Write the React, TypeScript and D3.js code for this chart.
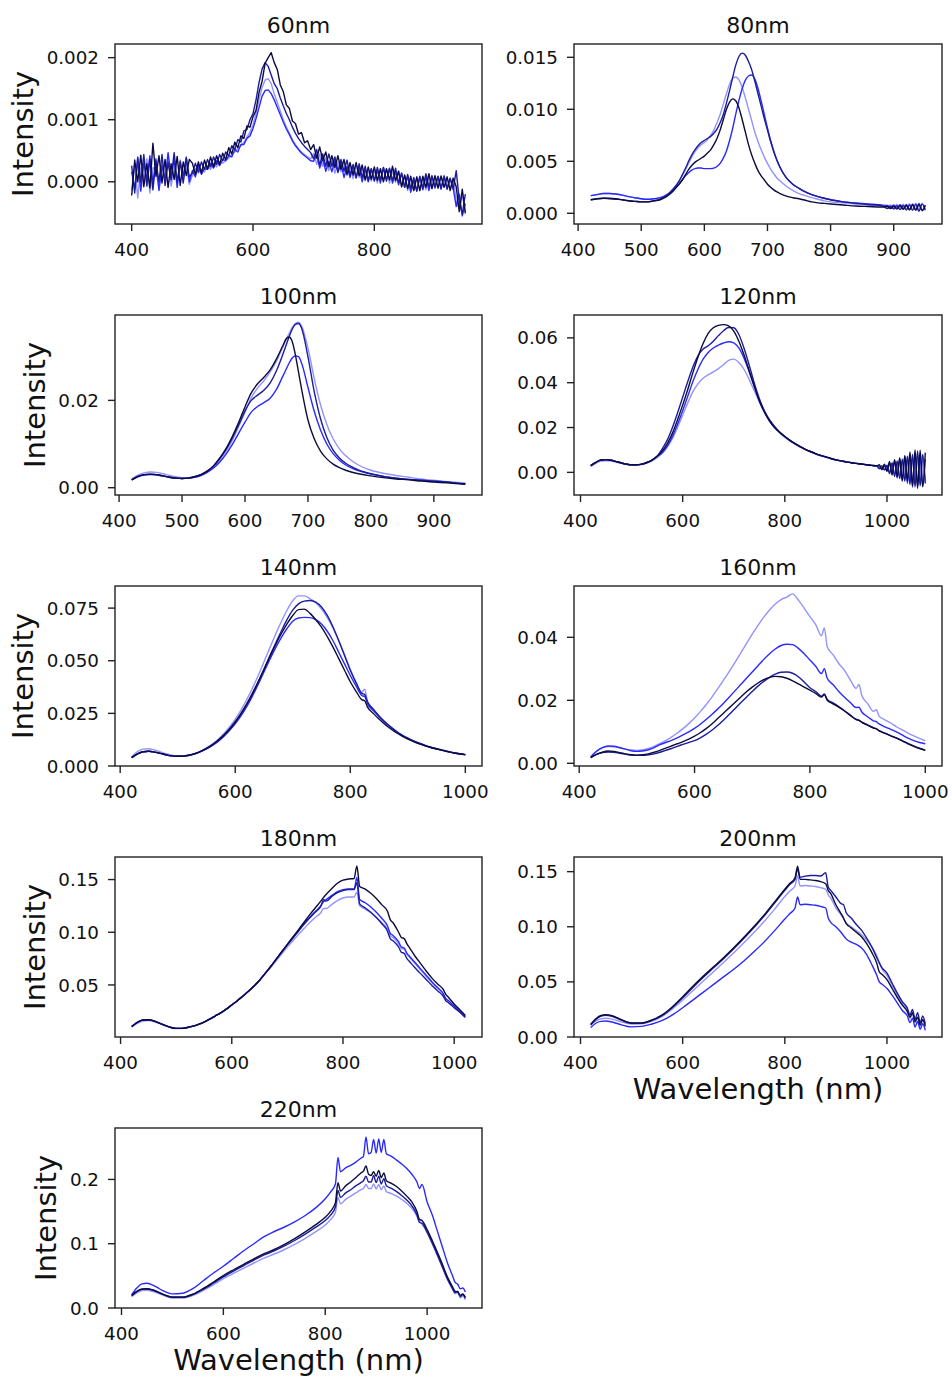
import React from "react";
import * as d3 from "d3";

const W = 952;
const H = 1378;
const FONT = "DejaVu Sans, Verdana, sans-serif";
// series colours: light, medium, dark blue, navy
const COLORS = ["#9393ff", "#2a2aff", "#1c1c9e", "#0c0c3e"];

// ---------------- 60nm (values in 1e-5) ----------------
const WL_60 = d3.range(400, 951, 5);
const S0_60 = [-14,28,-26,23,4,37,-18,23,17,-12,30,4,39,-7,23,-3,35,2,28,-4,
  10,22,14,20,16,26,20,30,24,32,30,34,38,44,48,54,58,64,72,80,
  92,110,132,152,164,166,158,142,128,114,100,88,78,68,60,53,48,44,40,37,
  46,28,45,25,39,18,34,14,32,16,33,10,25,5,26,7,23,2,18,1,
  19,-2,21,2,21,-2,18,-1,17,-8,9,-14,5,-14,7,-14,6,-13,9,-11,
  8,-10,10,-8,6,-12,4,-30,-44,-20,-52];
const S1_60 = [16,-12,40,-15,30,3,42,-3,37,-14,26,2,47,7,37,-9,31,10,40,0,
  18,8,26,12,22,20,30,22,34,26,36,34,42,40,52,48,60,60,70,74,
  86,102,120,138,147,148,142,132,120,108,96,85,76,66,58,52,46,42,38,34,
  33,44,22,38,17,33,16,35,15,30,7,25,7,26,6,23,0,20,0,21,
  1,19,-2,23,3,21,-2,17,-5,14,-9,9,-17,2,-15,9,-13,8,-14,8,
  -10,8,-12,10,-10,5,-10,-40,-20,-55,-35];
const S2_60 = [26,-18,38,-1,44,-7,36,-13,33,0,44,-6,31,3,47,-1,33,-2,38,8,
  14,30,16,32,20,36,24,40,28,44,34,48,42,58,52,68,64,82,84,100,
  110,132,160,182,192,186,172,158,150,135,122,110,100,88,78,70,63,57,52,47,
  37,52,27,45,25,45,25,40,16,36,17,35,11,28,7,29,7,25,2,21,
  2,23,3,23,1,22,2,22,-2,14,-9,12,-11,7,-15,8,-10,13,-8,10,
  -8,9,-10,8,-12,6,-12,18,-30,-52,-20];
const S3_60 = [-22,35,0,43,-8,29,-10,62,9,42,-2,36,-9,29,4,41,-6,32,10,36,
  30,12,32,14,35,20,40,24,42,28,46,36,55,45,64,55,74,70,90,88,
  105,115,144,162,191,200,208,192,181,156,145,124,118,98,94,77,79,63,66,52,
  60,38,56,35,48,24,42,23,42,20,36,12,31,11,31,10,27,3,24,4,
  24,2,21,0,21,3,25,2,17,-8,11,-11,9,-14,8,-14,9,-9,13,-11,
  10,-10,9,-9,8,-14,6,-8,-48,-12,-50];

// ---------------- 80nm (values in 1e-4) ----------------
const WL_80 = [420,430,440,450,460,470,480,490,500,510,520,530,540,550,560,
  565,570,575,580,585,590,595,600,605,610,615,620,625,630,635,640,645,650,655,660,665,670,675,680,685,690,695,700,705,710,715,720,
  730,740,750,760,770,780,790,800,820,840,860,880,
  890,895,900,905,910,915,920,925,930,935,940,945,950];
const S0_80 = [17,18,19,19,18.5,17.5,16,15,14,13.5,14,15,18,23,31,
  36,42,48,54,59,63,66,68,71,75,80,87,95,105,115,124,130,131,128,121,111,100,89,78,69,61,54,48,42.5,38,34,31,
  26,22,19,17,15,13.5,12,11,10,9,8,7,
  6.0,8.0,5.2,8.4,4.8,8.8,4.2,9.2,3.8,9.6,3.2,9.8,4.0];
const S1_80 = [17,18,19,19,18.5,17.5,16,15,14,13.5,14,15,17.5,22,28,
  32,36,39,41.5,43,43.5,43.5,43,43,43,43.5,45,48,53,60,70,82,96,109,120,128,132,133,129,120,108,95,82,70,60,51,44,
  34,28,24,20.5,18,16,14.5,13,11,10,9,8,
  7.5,5.5,8.0,5.0,8.2,4.5,8.6,4.0,9.0,3.5,9.4,3.0,8.0];
const S2_80 = [13,14,14.5,14,13.5,13,12,11.5,11,11,12,13.5,17,23,31,
  37,43,50,56,61,65,68,70,72,74,77,81,87,95,106,118,131,143,151,154,152,146,138,127,115,103,91,80,69,59,51,44,
  34,28,24,20.5,18,16,14.5,13,11,9.5,8.5,7.5,
  4.5,6.8,4.0,7.2,3.5,7.5,3.0,8.0,2.8,8.6,2.0,8.8,3.0];
const S3_80 = [13,14,14.5,14.5,14,13,12,11.5,11,11,12,13,16,21,28,
  32,37,42,46,49,51,53,55,58,61,66,72,80,90,100,107,110,108,101,90,78,66,56,48,41,36,32,28,25,22.5,20.5,19,
  16.5,15,14,12.5,11,10,9.5,9,8,7,6.5,6,
  6.5,4.5,6.8,4.0,7.2,3.8,7.5,3.2,8.0,2.8,8.5,2.5,7.5];

// ---------------- 100nm (values in 1e-3) ----------------
const WL_100 = [420,430,440,450,460,470,480,490,500,510,520,530,540,550,560,570,580,590,600,610,620,630,640,650,660,
  665,670,675,680,685,690,700,710,720,730,740,750,760,780,800,820,840,860,880,900,920,940,950];
const S0_100 = [2.0,2.9,3.4,3.6,3.5,3.2,2.8,2.5,2.3,2.3,2.5,2.9,3.6,4.7,6.3,8.3,10.9,14.0,17.3,20.6,22.8,24.5,26.5,29.0,32.2,
  33.8,35.3,36.7,37.6,37.9,37.0,32.0,25.0,19.0,14.5,11.2,8.9,7.3,5.2,4.0,3.3,2.8,2.4,2.0,1.7,1.4,1.2,1.1];
const S1_100 = [1.8,2.5,2.9,3.0,2.9,2.7,2.4,2.2,2.1,2.2,2.4,2.8,3.5,4.5,5.9,7.7,9.9,12.5,15.0,17.3,18.6,19.5,20.5,22.5,25.5,
  27.0,28.5,29.7,30.2,30.0,28.5,23.0,17.5,13.2,10.0,7.8,6.3,5.2,3.9,3.1,2.6,2.2,1.9,1.7,1.5,1.3,1.0,0.9];
const S2_100 = [1.8,2.6,3.0,3.1,3.0,2.7,2.4,2.2,2.1,2.2,2.5,3.0,3.8,5.0,6.7,8.8,11.4,14.4,17.6,20.0,21.2,22.3,24.0,26.8,30.5,
  32.5,34.5,36.3,37.4,37.6,36.5,30.0,22.0,15.8,11.5,8.6,6.8,5.6,4.1,3.2,2.6,2.2,1.9,1.7,1.5,1.3,1.0,0.9];
const S3_100 = [1.8,2.6,3.0,3.1,3.0,2.7,2.4,2.2,2.1,2.2,2.5,3.0,3.8,5.0,6.8,9.0,11.8,15.0,18.5,21.7,23.8,25.3,27.0,29.5,32.5,
  34.0,34.5,33.5,30.5,26.5,22.5,15.5,11.2,8.4,6.6,5.4,4.6,4.0,3.2,2.7,2.3,2.0,1.8,1.5,1.3,1.1,0.9,0.8];

// ---------------- 120nm (values in 1e-3) ----------------
const WL_120 = [420,430,440,450,460,470,480,490,500,510,520,530,540,550,
  560,570,580,590,600,610,620,630,640,650,660,670,680,690,700,710,720,730,740,750,760,770,780,790,
  800,810,820,830,840,850,860,870,880,890,900,910,920,930,940,950,960,970,980,
  985,990,995,1000,1005,1010,1015,1020,1025,1030,1035,1040,1045,1050,1055,1060,1065,1070,1075];
const S0_120 = [2.6,4.0,5.0,5.2,5.0,4.5,4.0,3.5,3.2,3.2,3.5,4.1,5.1,6.5,
  8.5,11.3,15.0,20.0,25.5,31.0,36.0,39.5,42.0,43.5,44.8,46.3,48.0,50.0,50.5,49.0,46.0,41.5,36.5,31.5,26.8,23.0,20.0,17.8,
  15.6,14.0,12.6,11.3,10.1,9.1,8.2,7.4,6.7,6.1,5.5,5.0,4.6,4.2,3.9,3.6,3.3,3.0,2.8,
  1.8,2.6,1.2,2.8,0.2,3.6,-0.8,4.2,-2.0,5.0,-3.0,6.0,-4.0,6.5,-4.5,7.0,-5.0,6.0,-4.0];
const S1_120 = [3.0,4.5,5.5,5.7,5.4,4.8,4.2,3.7,3.4,3.4,3.7,4.4,5.5,7.2,
  8.8,11.8,16.0,21.5,27.5,34.0,40.5,46.0,50.5,53.5,55.5,56.8,57.7,58.3,57.8,55.5,51.0,45.0,38.5,32.0,27.0,23.0,20.0,17.8,
  16.0,14.3,12.8,11.5,10.3,9.3,8.4,7.6,6.9,6.2,5.6,5.1,4.7,4.3,4.0,3.7,3.4,3.1,2.9,
  2.8,1.5,3.0,0.8,4.0,-0.5,5.0,-2.5,6.0,-4.0,7.5,-5.0,8.0,-6.5,8.5,-6.0,7.0,-6.5,6.0];
const S2_120 = [3.0,4.5,5.5,5.7,5.4,4.8,4.2,3.7,3.4,3.4,3.7,4.4,5.5,7.2,
  10.5,14.5,20.0,26.5,33.5,40.5,47.0,52.0,55.0,56.5,58.5,61.0,63.2,64.6,64.5,61.5,55.5,48.0,40.0,33.0,27.5,23.5,20.5,18.0,
  16.0,14.3,12.8,11.5,10.3,9.3,8.4,7.6,6.9,6.2,5.6,5.1,4.7,4.3,4.0,3.7,3.4,3.1,2.9,
  1.6,3.0,1.0,3.2,-0.6,4.3,-1.8,5.1,-2.8,6.0,-4.0,7.2,-5.5,8.0,-6.5,9.5,-6.0,8.0,-5.0];
const S3_120 = [3.0,4.5,5.5,5.7,5.4,4.8,4.2,3.7,3.4,3.4,3.7,4.4,5.5,7.2,
  9.5,12.8,17.5,23.5,30.0,37.0,44.5,51.5,57.5,62.0,64.5,65.6,65.9,65.3,63.0,58.5,52.5,45.5,38.5,32.0,27.0,23.0,20.0,17.8,
  16.0,14.3,12.8,11.5,10.3,9.3,8.4,7.6,6.9,6.2,5.6,5.1,4.7,4.3,4.0,3.7,3.4,3.1,2.9,
  3.4,1.2,3.6,0.5,4.9,-1.2,5.7,-1.9,6.5,-3.6,7.3,-3.8,9.1,-6.0,10.0,-7.1,9.9,-6.2,8.8];

// ---------------- 140nm (values in 1e-3) ----------------
const WL_140 = [420,430,440,450,460,470,480,490,500,510,520,530,540,550,560,570,580,590,600,610,
  620,630,640,650,660,670,680,690,700,710,720,730,740,750,760,770,780,790,800,810,820,825,
  830,840,850,860,870,880,890,900,910,920,930,940,950,960,970,980,990,1000];
const S0_140 = [4.4,6.8,8.0,8.2,7.6,6.7,5.8,5.1,4.7,4.8,5.2,6.0,7.1,8.6,10.4,12.6,15.3,18.5,22.2,26.5,
  31.5,37.0,43.0,49.5,56.0,62.5,68.5,74.0,78.5,80.8,80.8,79.5,77.5,74.5,70.5,65.5,59.5,53.0,46.0,40.0,35.0,36.5,
  30.5,27.0,23.8,21.0,18.6,16.5,14.7,13.2,11.9,10.8,9.8,8.9,8.2,7.5,6.9,6.3,5.8,5.4];
const S1_140 = [4.0,5.8,6.8,7.0,6.6,6.0,5.3,4.8,4.6,4.7,5.1,5.8,6.8,8.1,9.7,11.6,14.0,16.8,20.0,23.8,
  28.2,33.2,38.8,44.7,50.5,56.0,61.0,65.3,68.8,70.3,70.6,70.5,69.5,67.5,64.0,59.5,54.0,48.5,43.0,38.0,33.5,33.0,
  29.5,26.3,23.4,20.8,18.5,16.4,14.6,13.1,11.8,10.7,9.7,8.8,8.1,7.4,6.8,6.2,5.7,5.3];
const S2_140 = [4.0,5.8,6.8,7.0,6.6,6.0,5.3,4.8,4.6,4.7,5.1,5.8,6.9,8.2,9.9,11.9,14.3,17.2,20.6,24.6,
  29.2,34.4,40.0,46.0,52.2,58.2,64.0,69.5,74.0,77.0,78.3,78.6,77.8,75.5,71.5,66.0,59.5,52.5,45.5,39.5,34.5,34.0,
  30.5,27.0,23.8,21.0,18.6,16.5,14.7,13.2,11.9,10.8,9.8,8.9,8.2,7.5,6.9,6.3,5.8,5.4];
const S3_140 = [4.0,5.8,6.8,7.0,6.6,6.0,5.3,4.8,4.6,4.7,5.1,5.9,7.0,8.4,10.1,12.2,14.7,17.6,21.0,25.0,
  29.5,34.5,40.0,45.8,51.8,57.5,62.8,67.5,71.5,74.3,74.5,72.5,69.5,66.0,61.5,56.5,51.0,45.5,40.0,35.5,31.5,31.0,
  28.0,25.0,22.3,19.8,17.7,15.8,14.2,12.8,11.6,10.5,9.6,8.8,8.1,7.4,6.8,6.2,5.8,5.4];

// ---------------- 160nm (values in 1e-3) ----------------
const WL_160 = [420,430,440,450,460,470,480,490,500,510,520,530,540,550,560,570,580,590,600,610,
  620,630,640,650,660,670,680,690,700,710,720,730,740,750,760,770,780,790,800,810,820,825,
  830,840,850,860,870,880,885,890,900,910,915,920,930,940,950,960,970,980,990,1000];
const S0_160 = [2.1,3.8,4.9,5.3,5.2,4.9,4.5,4.2,4.1,4.3,4.7,5.4,6.3,7.2,8.3,9.6,11.0,12.6,14.4,16.4,
  18.6,21.0,23.6,26.3,29.1,32.0,35.0,38.0,41.0,43.8,46.4,48.7,50.6,52.0,52.8,53.8,51.8,49.3,46.6,44.0,40.5,43.0,
  37.0,34.5,31.7,29.5,26.5,23.8,25.0,21.5,19.0,16.5,17.0,15.0,13.8,12.8,11.6,10.6,9.6,8.7,7.9,7.2];
const S1_160 = [2.0,3.8,5.0,5.5,5.4,5.0,4.5,4.0,3.8,3.9,4.3,5.0,5.9,6.6,7.3,8.1,9.0,10.0,11.1,12.4,
  13.9,15.5,17.2,19.0,21.0,23.0,25.0,27.0,29.0,31.0,33.0,34.8,36.3,37.4,37.8,37.7,36.5,34.8,32.8,30.8,28.5,30.0,
  27.0,25.0,22.8,21.0,19.3,17.7,17.8,16.3,14.8,13.5,13.2,12.5,11.6,10.8,10.0,9.0,8.0,7.2,6.6,6.2];
const S2_160 = [1.8,2.8,3.4,3.6,3.5,3.2,2.9,2.6,2.5,2.5,2.7,3.0,3.5,4.1,4.7,5.4,6.0,6.6,7.2,8.1,
  9.2,10.5,12.0,13.7,15.5,17.3,19.2,21.0,22.8,24.5,26.0,27.3,28.3,28.9,29.0,28.6,27.5,25.8,24.0,22.8,21.3,22.0,
  20.3,19.2,18.0,16.7,15.3,14.0,13.7,13.1,12.2,11.3,11.0,10.4,9.6,8.8,8.1,7.2,6.3,5.5,4.8,4.2];
const S3_160 = [1.8,2.8,3.5,3.9,3.8,3.4,3.0,2.7,2.6,2.7,3.0,3.5,4.1,4.8,5.5,6.2,6.9,7.7,8.6,9.7,
  11.0,12.5,14.2,15.9,17.6,19.3,21.0,22.7,24.2,25.5,26.6,27.3,27.6,27.5,27.0,26.2,25.2,24.2,23.2,22.2,21.0,21.8,
  20.0,18.9,17.8,16.6,15.2,13.9,13.6,13.0,12.1,11.2,10.9,10.3,9.5,8.7,8.0,7.1,6.2,5.4,4.7,4.1];

// ---------------- 180nm (values in 1e-3) ----------------
const WL_180 = [420,430,440,450,460,470,480,490,500,510,520,530,540,550,560,570,580,590,600,610,
  620,630,640,650,660,670,680,690,700,710,720,730,740,750,760,765,770,780,790,800,810,820,825,
  830,840,850,860,870,880,885,890,900,905,910,915,920,930,940,950,960,970,980,985,990,1000,1010,1020];
const S0_180 = [9.8,13.5,15.8,16.2,15.2,13.3,11.3,9.6,8.6,8.6,9.4,10.7,12.4,14.6,17.3,20.3,23.3,26.8,30.8,34.8,
  39.3,43.8,48.7,54.0,60.3,66.5,73.0,79.5,86.0,92.0,98.0,103.5,109.0,114.0,118.5,122.5,122.5,126.5,130.0,132.5,133.5,133.5,138.0,
  125.0,122.0,118.5,114.0,109.0,103.0,97.0,95.0,89.0,84.5,84.0,79.0,76.0,70.0,64.0,58.0,52.0,47.0,42.0,37.0,35.0,30.0,25.0,20.0];
const S1_180 = [10.5,14.5,16.8,17.0,15.8,13.8,11.6,9.8,8.8,8.8,9.6,10.9,12.6,14.8,17.5,20.5,23.5,27.0,31.0,35.0,
  39.5,44.0,49.0,54.5,61.0,67.5,74.5,81.5,88.5,95.0,101.5,108.0,114.0,119.5,125.0,129.0,131.0,135.0,138.5,140.5,141.2,141.0,152.0,
  131.0,128.0,124.0,119.0,113.0,106.0,99.0,97.0,91.0,86.0,85.0,80.0,77.0,71.0,65.0,59.0,53.0,47.5,42.0,37.0,35.0,30.0,25.0,20.0];
const S2_180 = [10.5,14.5,16.8,17.0,15.8,13.8,11.6,9.8,8.8,8.8,9.6,10.9,12.6,14.8,17.5,20.5,23.5,27.0,31.0,35.0,
  39.5,44.0,49.0,54.5,61.0,67.5,74.5,81.5,88.0,94.5,101.0,107.5,113.5,119.0,124.5,131.0,129.5,134.0,137.5,139.5,140.5,140.5,147.0,
  127.0,123.0,119.0,114.0,108.0,101.0,94.0,92.0,86.0,81.0,80.0,75.0,72.0,66.0,60.5,55.0,49.5,44.5,39.5,35.0,33.0,28.5,24.0,19.0];
const S3_180 = [10.5,14.5,16.8,17.0,15.8,13.8,11.6,9.8,8.8,8.8,9.6,10.9,12.6,14.8,17.5,20.5,23.5,27.0,31.0,35.0,
  39.5,44.0,49.0,54.5,61.0,67.5,74.5,81.5,88.5,95.5,102.5,109.5,116.5,123.0,129.5,133.0,136.0,141.5,146.5,149.5,150.5,151.0,163.0,
  143.5,141.0,137.0,132.0,126.0,120.0,112.0,109.0,100.0,95.0,94.0,89.0,85.0,77.0,70.0,63.0,56.5,51.0,46.0,41.0,38.0,32.0,26.5,21.0];

// ---------------- 200nm (values in 1e-3) ----------------
const WL_200 = [420,430,440,450,460,470,480,490,500,520,540,560,580,600,620,640,660,680,700,720,740,760,780,800,
  810,820,825,830,840,850,860,870,880,885,890,900,910,915,920,930,940,950,960,970,980,
  985,990,1000,1010,1020,1030,1040,1045,1050,1055,1060,1065,1070,1075];
const S0_200 = [10.5,14.5,16.5,17.0,16.5,15.2,13.7,12.5,11.8,12.0,14.5,18.8,25.5,33.5,42.0,50.5,59.0,67.5,76.5,85.5,95.0,105.0,116.0,127.5,
  132.5,137.0,146.0,137.0,137.5,137.0,136.5,135.5,134.0,129.0,126.0,117.0,111.0,107.0,103.5,100.0,96.5,93.0,88.0,82.0,74.0,
  68.0,62.0,56.0,47.0,38.0,30.0,24.0,17.0,21.0,13.0,17.0,10.0,15.0,9.0];
const S1_200 = [8.5,12.5,14.2,14.5,13.8,12.5,11.0,9.8,9.2,9.6,11.8,15.0,20.0,26.5,33.5,40.5,47.5,54.5,61.5,69.0,77.5,86.5,96.5,107.0,
  112.0,117.0,127.0,120.0,120.5,120.0,119.5,118.5,117.0,108.0,104.0,100.0,95.0,92.0,89.0,86.0,84.0,81.0,75.0,66.0,56.0,
  50.0,48.0,44.0,38.0,31.0,24.0,19.0,13.0,17.0,9.0,14.0,7.0,12.0,6.0];
const S2_200 = [11.0,16.0,19.0,19.8,19.0,17.3,15.3,13.5,12.5,12.5,15.0,19.5,26.8,35.5,45.0,54.0,62.5,71.0,80.0,89.5,99.5,110.0,121.5,133.0,
  138.5,143.0,152.0,145.0,146.0,146.5,146.5,146.0,149.0,136.0,133.0,127.0,121.0,120.0,113.0,108.0,102.0,97.0,90.0,82.0,72.0,
  67.0,63.0,58.0,49.0,40.0,32.0,26.0,20.0,25.0,16.0,22.0,13.0,19.0,12.0];
const S3_200 = [11.5,16.5,19.5,20.2,19.5,17.8,15.8,13.8,12.7,12.8,15.5,20.0,27.5,36.5,46.0,55.0,63.5,72.0,81.0,90.5,100.5,111.0,122.5,134.0,
  139.5,144.5,155.0,143.0,143.0,142.5,142.0,141.0,139.0,133.0,130.0,120.0,112.0,108.0,103.0,99.0,95.0,91.0,85.0,77.0,67.0,
  59.0,57.0,52.0,44.0,36.0,29.0,23.0,18.0,22.0,14.0,18.0,11.0,16.0,10.0];

// ---------------- 220nm (values in 1e-3) ----------------
const WL_220 = [420,430,440,450,460,470,480,490,500,520,540,560,580,600,620,640,660,680,700,720,740,760,780,800,
  810,820,825,830,840,850,860,870,875,880,885,890,895,900,905,910,915,920,930,940,950,960,970,980,
  985,990,1000,1010,1020,1030,1040,1050,1055,1060,1065,1070,1075];
const S0_220 = [17.5,23.5,27.0,27.5,26.0,23.5,20.5,17.5,15.5,15.5,19.5,27.0,36.0,45.5,54.0,62.0,70.0,77.5,84.0,91.0,99.0,108.0,118.0,129.0,
  137.0,149.0,172.0,162.0,169.0,174.0,179.0,184.0,186.0,192.0,186.0,186.0,193.0,185.0,192.0,184.0,190.0,181.0,178.0,174.0,169.0,163.0,155.0,143.0,
  135.0,130.0,117.0,100.0,82.0,63.0,44.0,29.0,22.0,24.0,16.0,19.0,13.0];
const S1_220 = [20.5,31.0,37.5,38.5,36.0,32.0,27.5,24.0,22.0,23.0,30.0,42.0,54.0,65.0,77.0,89.0,100.0,111.0,119.0,126.0,134.0,143.5,155.0,170.0,
  180.0,193.0,234.0,212.0,218.0,222.0,227.0,233.0,236.0,266.0,240.0,242.0,262.0,241.0,263.0,242.0,262.0,240.0,236.0,230.0,224.0,217.0,208.0,196.0,
  186.0,192.0,165.0,145.0,120.0,95.0,70.0,50.0,40.0,37.0,30.0,31.0,25.0];
const S2_220 = [19.0,25.5,29.0,29.5,28.0,25.0,21.5,18.5,16.5,16.5,21.0,29.0,38.5,48.5,57.5,66.0,74.5,82.5,89.0,96.5,105.0,114.5,125.0,136.0,
  144.0,157.0,183.0,172.0,179.0,184.0,190.0,195.0,198.0,205.0,196.0,196.0,206.0,195.0,205.0,193.0,201.0,190.0,186.0,181.0,175.0,168.0,159.0,145.0,
  133.0,132.0,118.0,101.0,83.0,64.0,45.0,30.0,24.0,26.0,18.0,21.0,15.0];
const S3_220 = [19.5,26.0,29.5,30.0,28.5,25.5,22.0,19.0,17.0,17.0,21.5,30.0,40.0,50.5,59.5,68.0,76.5,84.5,91.0,99.0,108.0,118.0,129.0,141.0,
  150.0,164.0,195.0,182.0,190.0,196.0,203.0,210.0,213.0,221.0,208.0,206.0,212.0,205.0,214.0,203.0,210.0,198.0,194.0,189.0,182.0,174.0,165.0,150.0,
  138.0,136.0,122.0,105.0,87.0,68.0,48.0,33.0,26.0,25.0,20.0,22.0,17.0];

// ---------------- ticks ----------------
const XT_A = [400, 600, 800];
const XT_B = [400, 500, 600, 700, 800, 900];
const XT_C = [400, 600, 800, 1000];

type Panel = {
  title: string; col: number; row: number; wl: number[]; series: number[][]; unit: number;
  xDomain: [number, number]; yDomain: [number, number]; xTicks: number[]; yTicks: number[];
  yFmt: string; xlabel: boolean; linear?: boolean;
};

const PANELS: Panel[] = [
  { title: "60nm", col: 0, row: 0, wl: WL_60, series: [S0_60, S1_60, S2_60, S3_60], unit: 1e-5, linear: true,
    xDomain: [372.5, 977.5], yDomain: [-0.00068, 0.00222], xTicks: XT_A, yTicks: [0, 0.001, 0.002], yFmt: ".3f", xlabel: false },
  { title: "80nm", col: 1, row: 0, wl: WL_80, series: [S0_80, S1_80, S2_80, S3_80], unit: 1e-4,
    xDomain: [393.5, 976.5], yDomain: [-0.00103, 0.01628], xTicks: XT_B, yTicks: [0, 0.005, 0.01, 0.015], yFmt: ".3f", xlabel: false },
  { title: "100nm", col: 0, row: 1, wl: WL_100, series: [S0_100, S1_100, S2_100, S3_100], unit: 1e-3,
    xDomain: [393.5, 976.5], yDomain: [-0.00167, 0.03955], xTicks: XT_B, yTicks: [0, 0.02], yFmt: ".2f", xlabel: false },
  { title: "120nm", col: 1, row: 1, wl: WL_120, series: [S0_120, S1_120, S2_120, S3_120], unit: 1e-3,
    xDomain: [387.25, 1107.75], yDomain: [-0.0101, 0.0702], xTicks: XT_C, yTicks: [0, 0.02, 0.04, 0.06], yFmt: ".2f", xlabel: false },
  { title: "140nm", col: 0, row: 2, wl: WL_140, series: [S0_140, S1_140, S2_140, S3_140], unit: 1e-3,
    xDomain: [391, 1029], yDomain: [0, 0.0855], xTicks: XT_C, yTicks: [0, 0.025, 0.05, 0.075], yFmt: ".3f", xlabel: false },
  { title: "160nm", col: 1, row: 2, wl: WL_160, series: [S0_160, S1_160, S2_160, S3_160], unit: 1e-3,
    xDomain: [391, 1029], yDomain: [-0.00086, 0.0563], xTicks: XT_C, yTicks: [0, 0.02, 0.04], yFmt: ".2f", xlabel: false },
  { title: "180nm", col: 0, row: 3, wl: WL_180, series: [S0_180, S1_180, S2_180, S3_180], unit: 1e-3,
    xDomain: [390, 1050], yDomain: [0.0006, 0.1714], xTicks: XT_C, yTicks: [0.05, 0.1, 0.15], yFmt: ".2f", xlabel: false },
  { title: "200nm", col: 1, row: 3, wl: WL_200, series: [S0_200, S1_200, S2_200, S3_200], unit: 1e-3,
    xDomain: [387.25, 1107.75], yDomain: [0, 0.1633], xTicks: XT_C, yTicks: [0, 0.05, 0.1, 0.15], yFmt: ".2f", xlabel: true },
  { title: "220nm", col: 0, row: 4, wl: WL_220, series: [S0_220, S1_220, S2_220, S3_220], unit: 1e-3,
    xDomain: [387.25, 1107.75], yDomain: [0, 0.28], xTicks: XT_C, yTicks: [0, 0.1, 0.2], yFmt: ".1f", xlabel: true },
];

const COL_X: [number, number][] = [[115, 482], [574, 942]];
const ROW_TOP = [44, 315, 586, 857, 1128];
const BOX_H = 180;
const TICK_FS = 18.3;
const TITLE_FS = 22;
const LABEL_FS = 29;

function textWidth(s: string, fs: number) {
  let w = 0;
  for (const c of s) {
    if (c === ".") w += 0.318;
    else if (c === "-") w += 0.838;
    else w += 0.636;
  }
  return w * fs;
}

function PanelView({ p, idx }: { p: Panel; idx: number }) {
  const [left, right] = COL_X[p.col];
  const top = ROW_TOP[p.row];
  const bottom = top + BOX_H;
  const x = d3.scaleLinear().domain(p.xDomain).range([left, right]);
  const y = d3.scaleLinear().domain(p.yDomain).range([bottom, top]);
  const fmt = d3.format(p.yFmt);
  const line = d3
    .line<number>()
    .x((_, i) => x(p.wl[i]))
    .y((v) => y(v * p.unit))
    .curve(p.linear ? d3.curveLinear : d3.curveMonotoneX);
  const labels = p.yTicks.map((t) => fmt(t));
  const maxW = Math.max(...labels.map((l) => textWidth(l, TICK_FS)));
  const ylabelX = left - 16 - maxW - 13.5;
  const clipId = `clip-${idx}`;
  return (
    <g>
      <defs>
        <clipPath id={clipId}>
          <rect x={left} y={top} width={right - left} height={bottom - top} />
        </clipPath>
      </defs>
      <g clipPath={`url(#${clipId})`}>
        {p.series.map((s, si) => (
          <path key={si} d={line(s) || ""} fill="none" stroke={COLORS[si]} strokeWidth={1.4} strokeLinejoin="round" />
        ))}
      </g>
      <rect x={left} y={top} width={right - left} height={bottom - top} fill="none" stroke="#222" strokeWidth={1.4} />
      {p.xTicks.map((t) => (
        <g key={"x" + t}>
          <line x1={x(t)} x2={x(t)} y1={bottom} y2={bottom + 7} stroke="#222" strokeWidth={1.4} />
          <text x={x(t)} y={bottom + 32} textAnchor="middle" fontSize={TICK_FS} fontFamily={FONT} fill="#111">{t}</text>
        </g>
      ))}
      {p.yTicks.map((t, i) => (
        <g key={"y" + t}>
          <line x1={left - 7} x2={left} y1={y(t)} y2={y(t)} stroke="#222" strokeWidth={1.4} />
          <text x={left - 16} y={y(t) + 6.6} textAnchor="end" fontSize={TICK_FS} fontFamily={FONT} fill="#111">{labels[i]}</text>
        </g>
      ))}
      <text x={(left + right) / 2} y={top - 11} textAnchor="middle" fontSize={TITLE_FS} fontFamily={FONT} fill="#111">{p.title}</text>
      {p.col === 0 && (
        <text transform={`translate(${ylabelX},${(top + bottom) / 2}) rotate(-90)`} textAnchor="middle" fontSize={LABEL_FS} fontFamily={FONT} fill="#111">Intensity</text>
      )}
      {p.xlabel && (
        <text x={(left + right) / 2} y={bottom + 62} textAnchor="middle" fontSize={LABEL_FS} fontFamily={FONT} fill="#111">Wavelength (nm)</text>
      )}
    </g>
  );
}

export default function App() {
  return (
    <svg width={W} height={H} viewBox={`0 0 ${W} ${H}`} style={{ position: "absolute", left: 0, top: 0, background: "#fff" }}>
      <rect x={0} y={0} width={W} height={H} fill="#fff" />
      {PANELS.map((p, i) => (
        <PanelView key={p.title} p={p} idx={i} />
      ))}
    </svg>
  );
}
